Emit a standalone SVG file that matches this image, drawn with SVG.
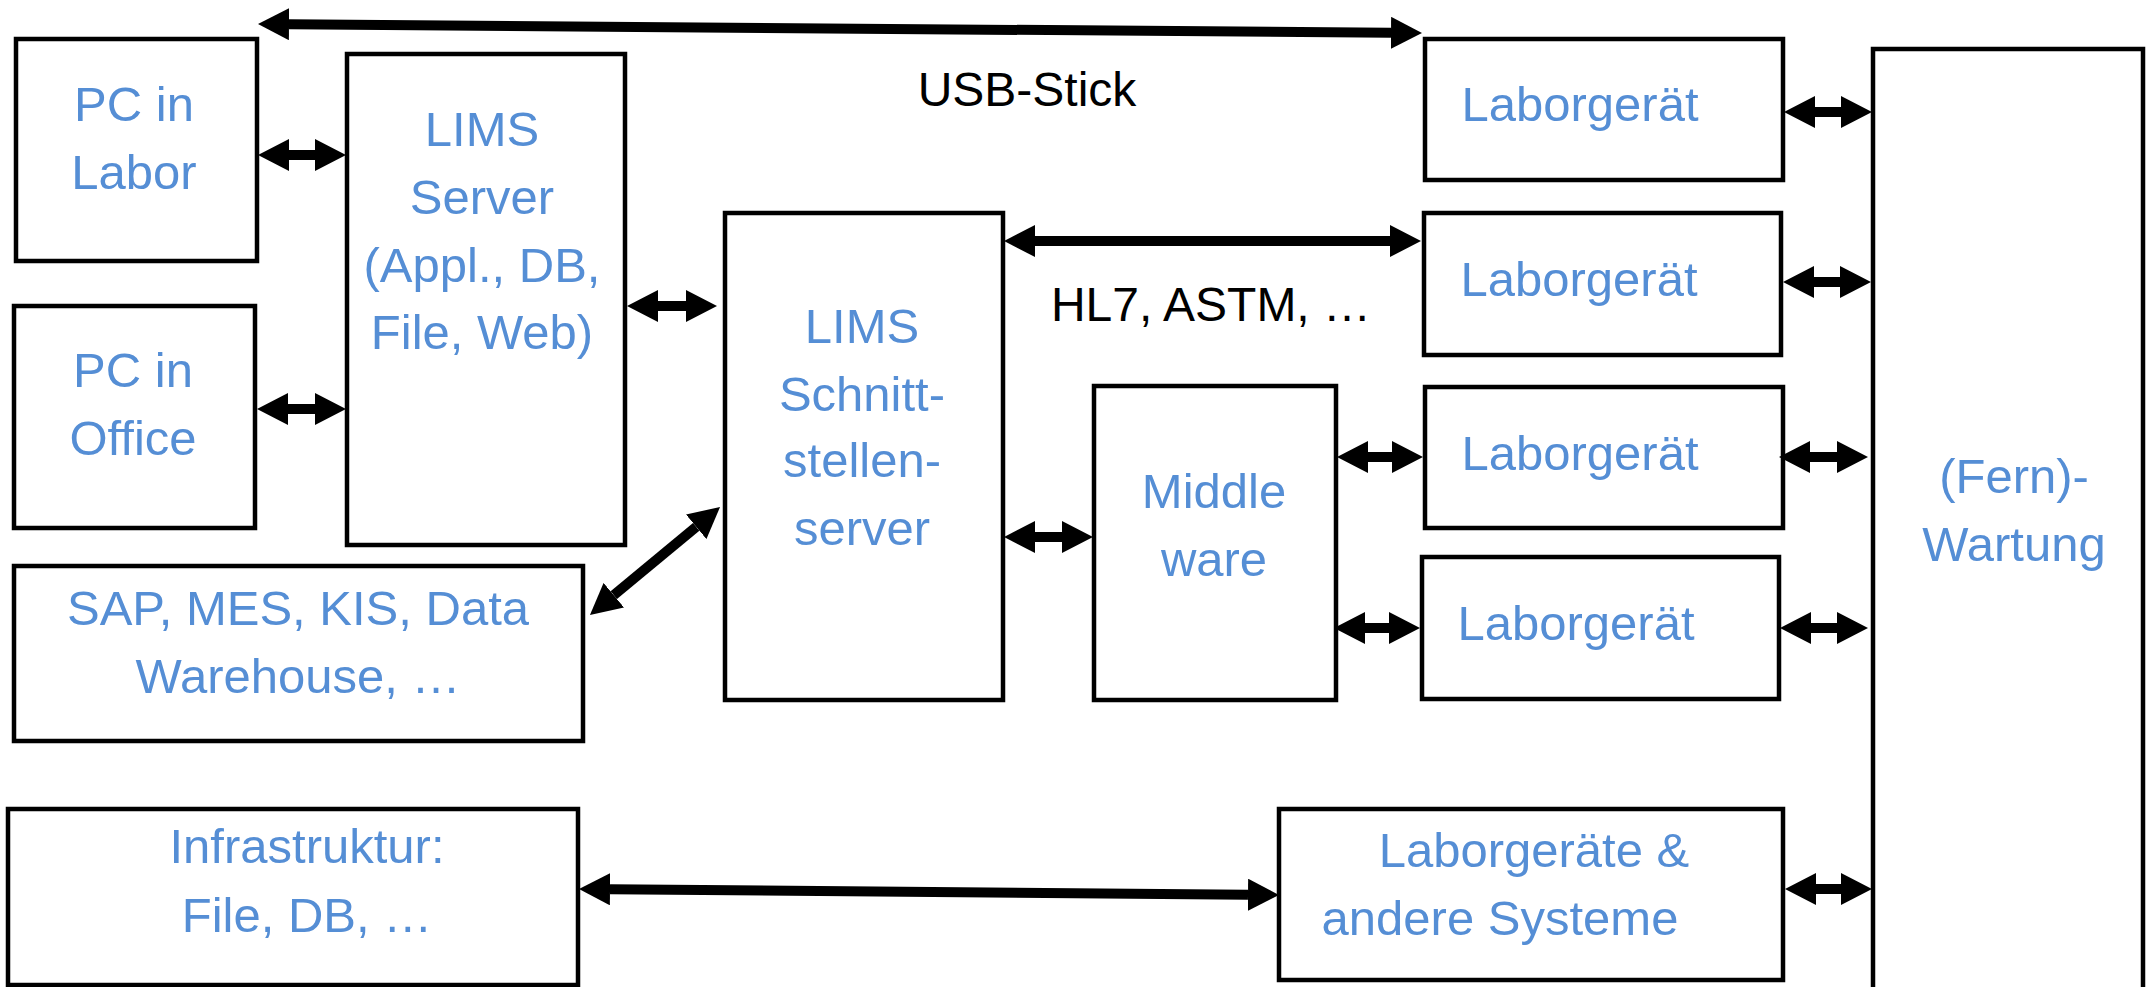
<svg xmlns="http://www.w3.org/2000/svg" width="2152" height="987" viewBox="0 0 2152 987">
<defs>
<marker id="ah" markerUnits="userSpaceOnUse" markerWidth="31" markerHeight="32" refX="0" refY="16" orient="auto-start-reverse" viewBox="0 0 31 32">
<path d="M0,0 L31,16 L0,32 Z" fill="#000"/>
</marker>
<style>
.box{fill:#fff;stroke:#000;stroke-width:4.5}
.t{font-family:"Liberation Sans",Arial,sans-serif;font-size:49px;fill:#558ED5;text-anchor:middle}
.k{font-family:"Liberation Sans",Arial,sans-serif;font-size:48px;fill:#000;text-anchor:middle}
.c{stroke:#000;stroke-width:10;fill:none;marker-start:url(#ah);marker-end:url(#ah)}
</style>
</defs>
<rect width="2152" height="987" fill="#fff"/>
<g id="pc-labor"><rect class="box" x="16" y="39" width="241" height="222"/><text class="t" x="134" y="121">PC in</text><text class="t" x="134" y="189">Labor</text></g>
<g id="pc-office"><rect class="box" x="14" y="306" width="241" height="222"/><text class="t" x="133" y="387">PC in</text><text class="t" x="133" y="455">Office</text></g>
<g id="lims-server"><rect class="box" x="347" y="54" width="278" height="491"/><text class="t" x="482" y="146">LIMS</text><text class="t" x="482" y="214">Server</text><text class="t" x="482" y="282">(Appl., DB,</text><text class="t" x="482" y="349">File, Web)</text></g>
<g id="sap"><rect class="box" x="14" y="566" width="569" height="175"/><text class="t" x="298" y="625">SAP, MES, KIS, Data</text><text class="t" x="298" y="693">Warehouse, …</text></g>
<g id="infra"><rect class="box" x="8" y="809" width="570" height="176"/><text class="t" x="307" y="863">Infrastruktur:</text><text class="t" x="307" y="932">File, DB, …</text></g>
<g id="schnittstellen"><rect class="box" x="725" y="213" width="278" height="487"/><text class="t" x="862" y="343">LIMS</text><text class="t" x="862" y="411">Schnitt-</text><text class="t" x="862" y="477">stellen-</text><text class="t" x="862" y="545">server</text></g>
<g id="middleware"><rect class="box" x="1094" y="386" width="242" height="314"/><text class="t" x="1214" y="508">Middle</text><text class="t" x="1214" y="576">ware</text></g>
<g id="laborgeraet1"><rect class="box" x="1425" y="39" width="358" height="141"/><text class="t" x="1580" y="121">Laborgerät</text></g>
<g id="laborgeraet2"><rect class="box" x="1424" y="213" width="357" height="142"/><text class="t" x="1579" y="296">Laborgerät</text></g>
<g id="laborgeraet3"><rect class="box" x="1425" y="387" width="358" height="141"/><text class="t" x="1580" y="470">Laborgerät</text></g>
<g id="laborgeraet4"><rect class="box" x="1422" y="557" width="357" height="142"/><text class="t" x="1576" y="640">Laborgerät</text></g>
<g id="laborgeraete-andere"><rect class="box" x="1279" y="809" width="504" height="171"/><text class="t" x="1534" y="867">Laborgeräte &amp;</text><text class="t" x="1500" y="935">andere Systeme</text></g>
<g id="fernwartung"><rect class="box" x="1873" y="49" width="270" height="960"/><text class="t" x="2014" y="493">(Fern)-</text><text class="t" x="2014" y="561">Wartung</text></g>
<g id="labels"><text class="k" x="1027" y="106">USB-Stick</text><text class="k" x="1211" y="321">HL7, ASTM, …</text></g>
<g id="connectors">
<line class="c" x1="289" y1="24.2" x2="1391" y2="32.8"/>
<line class="c" x1="289" y1="155" x2="315" y2="155"/>
<line class="c" x1="288" y1="409" x2="315" y2="409"/>
<line class="c" x1="658" y1="306" x2="686" y2="306"/>
<line class="c" x1="613.8" y1="595.2" x2="696.2" y2="526.8"/>
<line class="c" x1="1035" y1="241" x2="1390" y2="241"/>
<line class="c" x1="1035" y1="537" x2="1062" y2="537"/>
<line class="c" x1="1368" y1="457" x2="1392" y2="457"/>
<line class="c" x1="1365" y1="628" x2="1389" y2="628"/>
<line class="c" x1="1815" y1="112" x2="1841" y2="112"/>
<line class="c" x1="1814" y1="282" x2="1840" y2="282"/>
<line class="c" x1="1810" y1="457" x2="1837" y2="457"/>
<line class="c" x1="1811" y1="628" x2="1837" y2="628"/>
<line class="c" x1="1816" y1="889" x2="1841" y2="889"/>
<line class="c" x1="610" y1="889.3" x2="1248" y2="894.7"/>
</g>
</svg>
